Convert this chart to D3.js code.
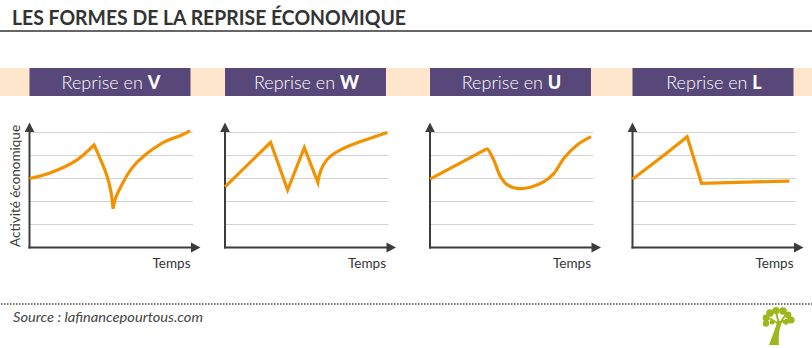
<!DOCTYPE html>
<html><head><meta charset="utf-8">
<script src="https://cdn.jsdelivr.net/npm/d3@7"></script>
<style>body{margin:0;background:#fff}svg{display:block}</style>
</head><body><div id="chart"></div>
<script>
// ---- data ----
const title = "LES FORMES DE LA REPRISE ÉCONOMIQUE";
const bannerPrefix = "Reprise en ";
const shapes = ["V", "W", "U", "L"];
const xLabel = "Temps";
const yLabel = "Activité économique";
const gridValues = [1, 2, 3, 4, 5];
const source = "Source : lafinancepourtous.com";
// each curve = list of segments, each segment = [time, activity] points
const curveV = [
  [[0, 3.0], [12.5, 3.24], [28.9, 3.80], [39.5, 4.46]],
  [[39.5, 4.46], [43.1, 3.88], [47.2, 3.15], [49.8, 2.43], [51.1, 1.68]],
  [[51.1, 1.68], [52.4, 2.1], [56.4, 2.72], [62.5, 3.44], [70.6, 4.02], [80.9, 4.53], [93.1, 4.89], [98.2, 5.07]]
];
const curveW = [
  [[0, 2.64], [27.9, 4.57]],
  [[27.9, 4.57], [38.3, 2.5]],
  [[38.3, 2.5], [48.5, 4.34]],
  [[48.5, 4.34], [56.8, 2.83]],
  [[56.8, 2.83], [57.7, 3.15], [60.1, 3.59], [64.2, 3.95], [72.4, 4.31], [82.6, 4.6], [90.7, 4.79], [99.3, 5.0]]
];
const curveU = [
  [[0, 2.97], [33.5, 4.24]],
  [[33.5, 4.24], [35, 4.28], [39, 3.8], [43.1, 3.08], [47.3, 2.72], [53.4, 2.57], [61.5, 2.62], [69.7, 2.86], [75.8, 3.22], [81.9, 3.88], [90, 4.46], [98.5, 4.82]]
];
const curveL = [
  [[0, 2.97], [16.8, 3.88], [33.4, 4.82]],
  [[33.4, 4.82], [42.2, 2.79]],
  [[42.2, 2.79], [96, 2.89]]
];
const curves = [curveV, curveW, curveU, curveL];

// ---- layout ----
const W = 812, H = 348;
const panelLefts = [29.5, 225, 430, 632.5];
const boxW = 161;
const svg = d3.select("#chart").append("svg").attr("width", W).attr("height", H);

const ORANGE = "#f39200", PURPLE = "#574879", BEIGE = "#fde6cb", AXIS = "#3c3c3c", GRID = "#d2d2d2";

// title
svg.append("text").attr("x", 12).attr("y", 25)
  .attr("font-family", "Lato, 'DejaVu Sans', sans-serif").attr("font-weight", 700)
  .attr("font-size", 21).attr("fill", "#333")
  .attr("textLength", 394).attr("lengthAdjust", "spacingAndGlyphs")
  .text(title);
svg.append("line").attr("x1", 0).attr("x2", W).attr("y1", 31).attr("y2", 31)
  .attr("stroke", "#333").attr("stroke-width", 1.5);

// banner
svg.append("rect").attr("x", 0).attr("y", 68).attr("width", W).attr("height", 28).attr("fill", BEIGE);

const y = d3.scaleLinear().domain([0, 5]).range([247.5, 132.5]);

shapes.forEach((s, i) => {
  const x0 = panelLefts[i];
  svg.append("rect").attr("x", x0).attr("y", 68).attr("width", boxW).attr("height", 28).attr("fill", PURPLE);
  const t = svg.append("text").attr("x", x0 + boxW / 2 + 1).attr("y", 88.5)
    .attr("text-anchor", "middle").attr("fill", "#fff")
    .attr("font-family", "Lato, 'DejaVu Sans', sans-serif").attr("font-size", 18);
  t.append("tspan").attr("font-weight", 300).text(bannerPrefix);
  t.append("tspan").attr("font-weight", 900).text(s);

  const x = d3.scaleLinear().domain([0, 100]).range([x0, x0 + 163.5]);
  const g = svg.append("g");
  // grid
  g.selectAll("line.grid").data(gridValues).join("line")
    .attr("x1", x0).attr("x2", x(100)).attr("y1", d => y(d)).attr("y2", d => y(d))
    .attr("stroke", GRID).attr("stroke-width", 1);
  // axes
  g.append("line").attr("x1", x0).attr("x2", x0).attr("y1", y(5) - 2).attr("y2", y(0) + 1)
    .attr("stroke", AXIS).attr("stroke-width", 2);
  g.append("line").attr("x1", x0 - 1).attr("x2", x(100)).attr("y1", y(0)).attr("y2", y(0))
    .attr("stroke", AXIS).attr("stroke-width", 2);
  const tipY = y(5) - 10;
  g.append("path").attr("d", `M${x0},${tipY}L${x0 + 4.8},${tipY + 9.5}L${x0 - 4.8},${tipY + 9.5}Z`).attr("fill", AXIS);
  const tipX = x(100) + 7.5, ay = y(0);
  g.append("path").attr("d", `M${tipX},${ay}L${tipX - 9.5},${ay - 5}L${tipX - 9.5},${ay + 5}Z`).attr("fill", AXIS);
  // x label
  g.append("text").attr("x", x0 + boxW).attr("y", 267.5).attr("text-anchor", "end")
    .attr("font-family", "Lato, 'DejaVu Sans', sans-serif").attr("font-weight", 400)
    .attr("font-size", 13.5).attr("fill", "#333").text(xLabel);
  if (i === 0) {
    g.append("text").attr("transform", `translate(19.5,186) rotate(-90)`)
      .attr("text-anchor", "middle")
      .attr("font-family", "Lato, 'DejaVu Sans', sans-serif").attr("font-weight", 400)
      .attr("font-size", 13.5).attr("fill", "#3a3a3a")
      .attr("textLength", 122).attr("lengthAdjust", "spacingAndGlyphs")
      .text(yLabel);
  }
  // curve
  const line = d3.line().x(d => x(d[0])).y(d => y(d[1])).curve(d3.curveCatmullRom.alpha(0.5));
  let dStr = "";
  curves[i].forEach((seg, k) => {
    const p = line(seg);
    dStr += k === 0 ? p : p.replace(/^M[^A-Za-z]*/, "");
  });
  g.append("path").attr("d", dStr).attr("fill", "none").attr("stroke", ORANGE)
    .attr("stroke-width", 3.2).attr("stroke-linejoin", "miter").attr("stroke-miterlimit", 4)
    .attr("stroke-linecap", "butt");
});

// footer
svg.append("line").attr("x1", 1).attr("x2", W).attr("y1", 304).attr("y2", 304)
  .attr("stroke", "#444").attr("stroke-width", 1.5).attr("stroke-dasharray", "1.5,1.5");
svg.append("text").attr("x", 13).attr("y", 322)
  .attr("font-family", "Lato, 'DejaVu Sans', sans-serif").attr("font-style", "italic").attr("font-weight", 400)
  .attr("font-size", 13.5).attr("fill", "#444")
  .attr("textLength", 190).attr("lengthAdjust", "spacingAndGlyphs").text(source);

// logo tree
const GREEN = "#9cb81c";
const logo = svg.append("g").attr("fill", GREEN);
logo.append("path").attr("d", "M769,345 L779,345 C778,337 779,329 782,322 L778,320 C775,329 772,337 769,345Z");
logo.append("path").attr("d", "M779,324 L769,318 M779,324 L776,312 M780,323 L786,314 M781,322 L790,319")
  .attr("stroke", GREEN).attr("stroke-width", 2).attr("fill", "none");
[[770, 313, 3.8], [776, 310.5, 3.6], [783, 311, 3.8], [788, 315, 3.4], [791, 320, 3.6],
 [766, 318, 3.4], [766, 323.5, 3.2], [772, 322, 2.5], [786, 322, 2.8]].forEach(c =>
  logo.append("circle").attr("cx", c[0]).attr("cy", c[1]).attr("r", c[2]));
</script></body></html>
